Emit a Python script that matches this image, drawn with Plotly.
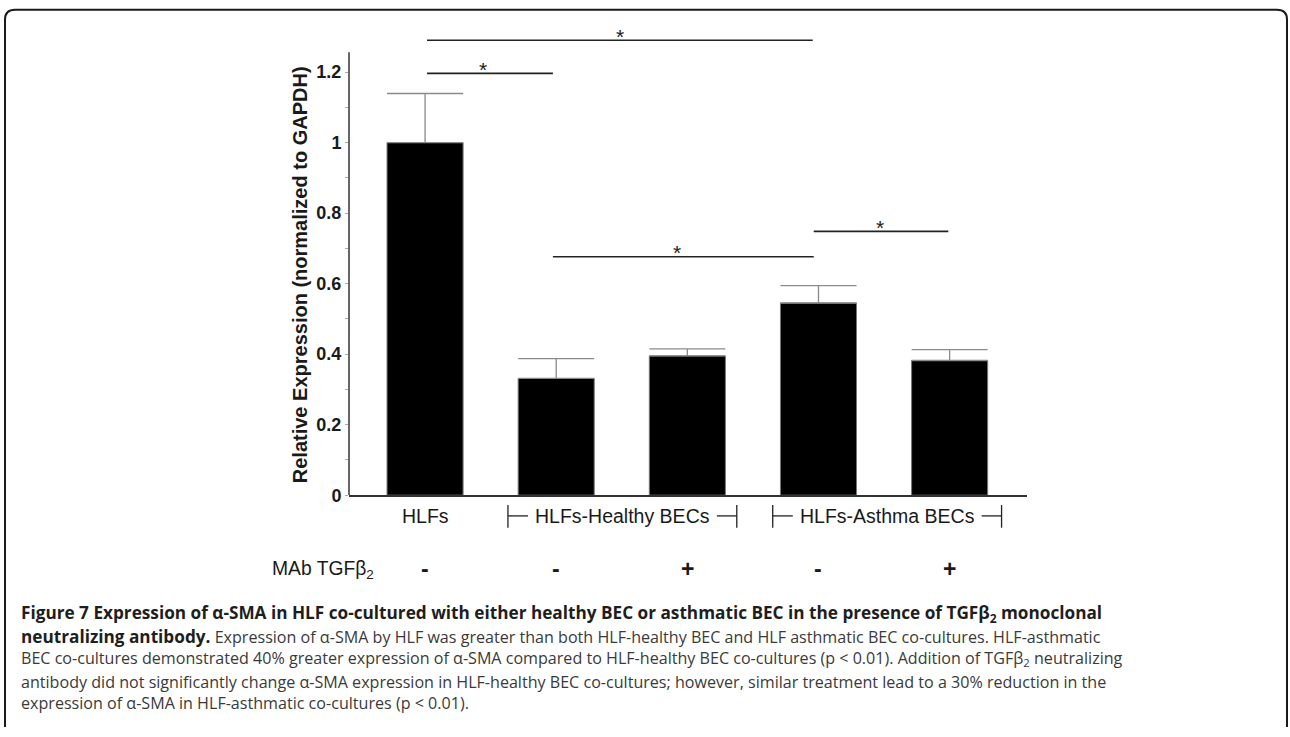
import plotly.graph_objects as go

# ---------------- data ----------------
categories = ["HLFs", "HLFs-Healthy BECs (-)", "HLFs-Healthy BECs (+)",
              "HLFs-Asthma BECs (-)", "HLFs-Asthma BECs (+)"]
values = [1.0, 0.331, 0.395, 0.545, 0.382]
errors_up = [0.139, 0.056, 0.020, 0.049, 0.031]
mab_signs = ["-", "-", "+", "-", "+"]
y_tick_vals = [0, 0.2, 0.4, 0.6, 0.8, 1.0, 1.2]
y_tick_text = ["0", "0.2", "0.4", "0.6", "0.8", "1", "1.2"]
group_labels = ["HLFs", "HLFs-Healthy BECs", "HLFs-Asthma BECs"]
# significance comparisons: (from, to, height, star position)
sig_from = [0.015, 0.015, 0.975, 2.964]
sig_to = [2.956, 0.975, 2.964, 3.99]
sig_y = [1.29, 1.196, 0.676, 0.748]
sig_star_x = [1.49, 0.44, 1.92, 3.47]

W, H = 1290, 737
def px(x):
    return x / W
def py(y):
    return 1 - y / H

YMAX = 1.295
x_idx = list(range(len(categories)))

fig = go.Figure()
fig.add_trace(go.Bar(
    x=x_idx, y=values, width=0.58,
    marker=dict(color="black", line=dict(color="#777777", width=1)),
    error_y=dict(type="data", symmetric=False, array=errors_up,
                 arrayminus=[0] * len(values), color="#8a8a8a",
                 thickness=1.3, width=38),
    showlegend=False, hoverinfo="skip",
))

font_arial = "Arial, Liberation Sans, sans-serif"

fig.update_layout(
    width=W, height=H,
    margin=dict(l=0, r=0, t=0, b=0),
    paper_bgcolor="white", plot_bgcolor="white",
    xaxis=dict(domain=[px(349), px(1027)], range=[-0.58, 4.59],
               showline=True, linecolor="#333333", linewidth=1.5,
               showticklabels=False, ticks="", showgrid=False, zeroline=False),
    yaxis=dict(domain=[py(502), py(502 - YMAX * 357.5)], range=[0, YMAX],
               showline=False, showgrid=False, zeroline=False,
               tickvals=y_tick_vals, ticktext=y_tick_text,
               ticks="outside", ticklen=3, tickcolor="#aaaaaa", tickwidth=1,
               minor=dict(tick0=0, dtick=0.1, ticks="outside", ticklen=3,
                          tickcolor="#aaaaaa", tickwidth=1, showgrid=False),
               tickfont=dict(family=font_arial, size=18, color="#1a1a1a",
                             weight="bold")),
    bargap=0.4,
)

shapes = []
# y axis line (stops just above 1.2)
shapes.append(dict(type="line", xref="paper", yref="y", x0=px(349), x1=px(349),
                   y0=0, y1=1.256, line=dict(color="#333333", width=1.5)))
# significance lines
for a, b, h in zip(sig_from, sig_to, sig_y):
    shapes.append(dict(type="line", xref="x", yref="y", x0=a, x1=b, y0=h, y1=h,
                       line=dict(color="#222222", width=1.6)))
# group brackets under axis
br_top, br_bot, br_mid = py(512), py(535), py(523)
for (l, lh, rh, r) in [(0.632, 0.785, 2.225, 2.377), (2.651, 2.804, 4.244, 4.396)]:
    shapes.append(dict(type="line", xref="x", yref="paper", x0=l, x1=l, y0=br_top, y1=br_bot,
                       line=dict(color="#222222", width=1.3)))
    shapes.append(dict(type="line", xref="x", yref="paper", x0=l, x1=lh, y0=br_mid, y1=br_mid,
                       line=dict(color="#222222", width=1.3)))
    shapes.append(dict(type="line", xref="x", yref="paper", x0=rh, x1=r, y0=br_mid, y1=br_mid,
                       line=dict(color="#222222", width=1.3)))
    shapes.append(dict(type="line", xref="x", yref="paper", x0=r, x1=r, y0=br_top, y1=br_bot,
                       line=dict(color="#222222", width=1.3)))
# rounded frame
fl, fr, ft, rad = 5, 1287, 10, 10
path = (f"M {px(fl)},{py(H)} L {px(fl)},{py(ft+rad)} Q {px(fl)},{py(ft)} {px(fl+rad)},{py(ft)} "
        f"L {px(fr-rad)},{py(ft)} Q {px(fr)},{py(ft)} {px(fr)},{py(ft+rad)} L {px(fr)},{py(H)}")
shapes.append(dict(type="path", xref="paper", yref="paper", path=path,
                   line=dict(color="#1a1a1a", width=2)))
fig.update_layout(shapes=shapes)

ann = []
# stars
for sx, h in zip(sig_star_x, sig_y):
    ann.append(dict(x=sx, y=h, xref="x", yref="y", text="*", showarrow=False,
                    yanchor="middle", yshift=4,
                    font=dict(family=font_arial, size=21, color="#222222")))
# y title
ann.append(dict(x=px(300), y=py(279), xref="paper", yref="paper",
                text="Relative Expression (normalized to GAPDH)", textangle=-90,
                showarrow=False, xanchor="center", yanchor="middle",
                font=dict(family=font_arial, size=20, color="#1a1a1a", weight="bold")))
# group labels
for gx, gl in zip([0, 1.505, 3.524], group_labels):
    ann.append(dict(x=gx, y=py(523), xref="x", yref="paper", text=gl, showarrow=False,
                    xanchor="center", yanchor="middle",
                    font=dict(family=font_arial, size=19.5, color="#1a1a1a")))
# MAb row
ann.append(dict(x=px(270), y=py(578), xref="paper", yref="paper",
                text="MAb TGFβ<sub>2</sub>", showarrow=False, xanchor="left", yanchor="middle",
                font=dict(family=font_arial, size=19.3, color="#1a1a1a")))
for i, s in zip(x_idx, mab_signs):
    ann.append(dict(x=i, y=py(577), xref="x", yref="paper", text=f"<b>{s}</b>", showarrow=False,
                    xanchor="center", yanchor="middle",
                    font=dict(family=font_arial, size=23, color="#1a1a1a")))

# caption
cap_font = "Open Sans, Lato, sans-serif"
B = '<span style="font-size:17.2px;color:#1e1e1e"><b>'
E = '</b></span>'
cap_lines = [
    B + "Figure 7 Expression of α-SMA in HLF co-cultured with either healthy BEC or asthmatic BEC in the presence of TGFβ<sub>2</sub> monoclonal" + E,
    B + "neutralizing antibody." + E + " Expression of α-SMA by HLF was greater than both HLF-healthy BEC and HLF asthmatic BEC co-cultures. HLF-asthmatic",
    "BEC co-cultures demonstrated 40% greater expression of α-SMA compared to HLF-healthy BEC co-cultures (p &lt; 0.01). Addition of TGFβ<sub>2</sub> neutralizing",
    "antibody did not significantly change α-SMA expression in HLF-healthy BEC co-cultures; however, similar treatment lead to a 30% reduction in the",
    "expression of α-SMA in HLF-asthmatic co-cultures (p &lt; 0.01).",
]
cap_y = [622, 645, 668, 691, 713]
for t, yy in zip(cap_lines, cap_y):
    ann.append(dict(x=px(19), y=py(yy), xref="paper", yref="paper", text=t, showarrow=False,
                    xanchor="left", yanchor="middle", align="left",
                    font=dict(family=cap_font, size=16.1, color="#3a3a3a")))
fig.update_layout(annotations=ann)

fig.write_html("out.html", config={"displayModeBar": False},
               post_script="document.body.style.margin='0';document.body.style.overflow='hidden';")
